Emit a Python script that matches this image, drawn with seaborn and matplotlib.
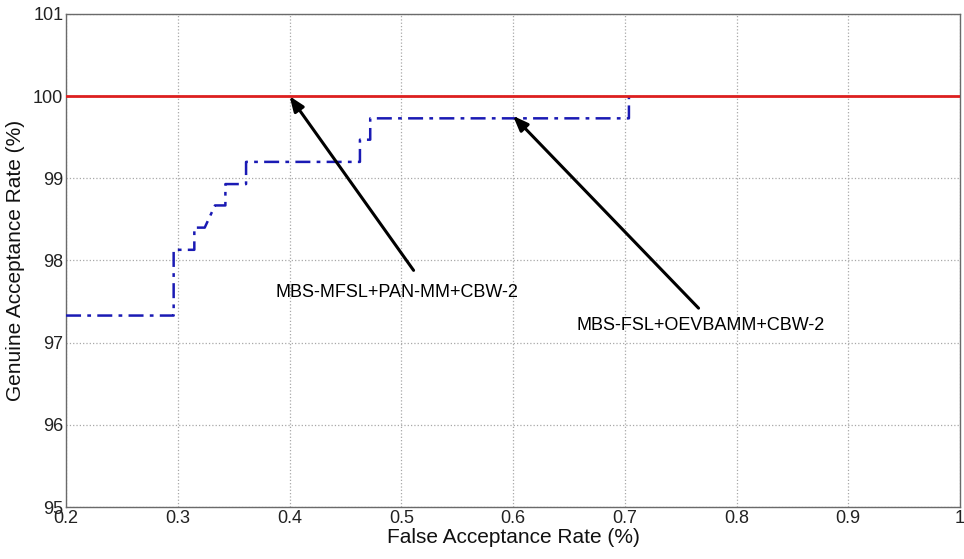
import numpy as np
import pandas as pd
import matplotlib
matplotlib.use("Agg")
import matplotlib.pyplot as plt
import seaborn as sns

# Data
far_mbs_fsl = [0.2, 0.2963, 0.2963, 0.3148, 0.3148, 0.3241, 0.3333, 0.3426, 0.3426,
               0.3611, 0.3611, 0.4630, 0.4630, 0.4722, 0.4722, 0.7037, 0.7037]
gar_mbs_fsl = [97.33, 97.33, 98.13, 98.13, 98.40, 98.40, 98.67, 98.67, 98.93,
               98.93, 99.20, 99.20, 99.47, 99.47, 99.73, 99.73, 100.0]
far_mbs_mfsl = [0.2, 1.0]
gar_mbs_mfsl = [100.0, 100.0]

label_mfsl = "MBS-MFSL+PAN-MM+CBW-2"
label_fsl = "MBS-FSL+OEVBAMM+CBW-2"

x_ticks = [0.2, 0.3, 0.4, 0.5, 0.6, 0.7, 0.8, 0.9, 1.0]
x_tick_labels = ["0.2", "0.3", "0.4", "0.5", "0.6", "0.7", "0.8", "0.9", "1"]
y_ticks = [95, 96, 97, 98, 99, 100, 101]

sns.set_style("whitegrid", {"grid.linestyle": ":", "grid.color": "#b0b0b0",
                            "axes.edgecolor": "#6a6a6a"})
plt.rcParams["font.family"] = ["Liberation Sans", "DejaVu Sans"]

fig = plt.figure(figsize=(9.64, 5.59), dpi=100)
ax = fig.add_axes([0.0685, 0.093, 0.9274, 0.882])

df_fsl = pd.DataFrame({"FAR": far_mbs_fsl, "GAR": gar_mbs_fsl})
df_mfsl = pd.DataFrame({"FAR": far_mbs_mfsl, "GAR": gar_mbs_mfsl})

sns.lineplot(data=df_fsl, x="FAR", y="GAR", sort=False, estimator=None, ax=ax,
             color="#1a1ab4", linewidth=1.8, zorder=3)
ax.lines[-1].set_linestyle((0, (6, 2.5, 1.5, 2.5)))
sns.lineplot(data=df_mfsl, x="FAR", y="GAR", sort=False, estimator=None, ax=ax,
             color="#dd1f1f", linewidth=2.0, zorder=4)

ax.set_xlim(0.2, 1.0)
ax.set_ylim(95, 101)
ax.set_xticks(x_ticks)
ax.set_xticklabels(x_tick_labels)
ax.set_yticks(y_ticks)
ax.tick_params(axis="both", labelsize=13, colors="#222222", length=4,
               direction="in", pad=2)
ax.grid(True, linestyle=":", color="#a8a8a8", linewidth=0.9)
for s in ax.spines.values():
    s.set_color("#6a6a6a")
    s.set_linewidth(1.0)

ax.set_xlabel("False Acceptance Rate (%)", fontsize=15, labelpad=1, color="#111111")
ax.set_ylabel("Genuine Acceptance Rate (%)", fontsize=15, labelpad=6, color="#111111")

arrowprops = dict(arrowstyle="-|>,head_length=0.9,head_width=0.35", color="black",
                  lw=2.2, shrinkA=0, shrinkB=0)
ax.annotate("", xy=(0.4, 100.0), xytext=(0.511, 97.88), arrowprops=arrowprops, zorder=5)
ax.annotate("", xy=(0.6, 99.76), xytext=(0.766, 97.42), arrowprops=arrowprops, zorder=5)
ax.text(0.3875, 97.61, label_mfsl, fontsize=13, va="center", ha="left", color="black")
ax.text(0.657, 97.21, label_fsl, fontsize=13, va="center", ha="left", color="black")

fig.savefig("out.png", dpi=100, facecolor="white")
